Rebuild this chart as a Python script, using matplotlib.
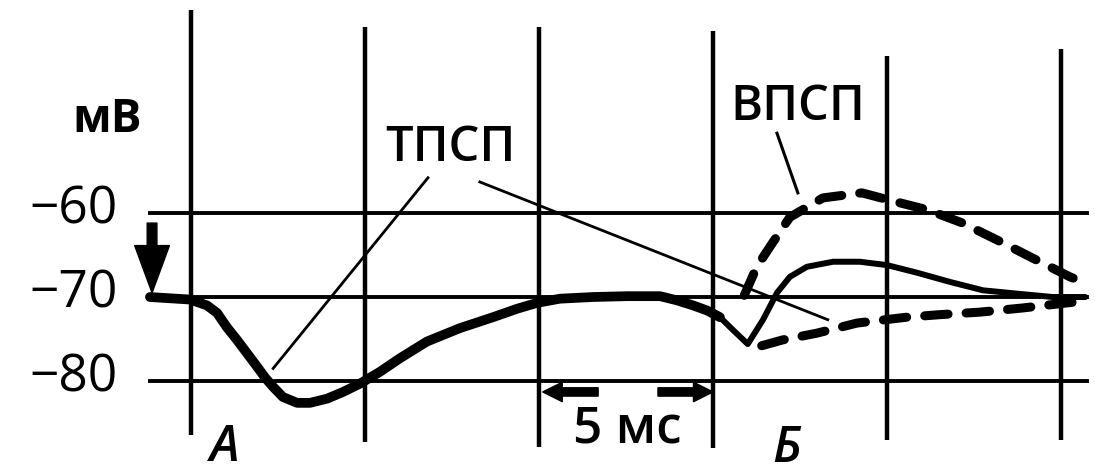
import matplotlib.pyplot as plt

plt.rcParams['font.family'] = ['Open Sans', 'DejaVu Sans']

# grid: time in ms, potential in mV
grid_times = [0, 5, 10, 15, 20, 25]
grid_top = [-35.8, -37.9, -37.9, -38.3, -41.3, -40.5]
grid_bottom = [-86.4, -87.3, -87.9, -88.0, -87.0, -87.0]
grid_levels = [-60, -70, -80]
level_labels = ['\u221260', '\u221270', '\u221280']

# A: ТПСП alone (thick trace)
ipsp_t = [-1.18, -0.03, 0.46, 0.75, 1.03, 1.32, 1.61, 1.90, 2.13, 2.36, 2.64, 3.05,
          3.42, 3.91, 4.37, 4.86, 5.43, 6.0, 6.78, 7.73, 8.68, 9.37, 9.94, 10.6,
          11.55, 12.53, 13.48, 13.97, 14.43, 14.83, 15.2]
ipsp_v = [-70.0, -70.3, -71.0, -71.9, -73.6, -75.1, -76.7, -78.3, -79.6, -80.7, -81.9, -82.6,
          -82.6, -82.1, -81.3, -80.3, -78.9, -77.3, -75.3, -73.7, -72.4, -71.4, -70.7, -70.2,
          -70.0, -69.9, -69.9, -70.4, -71.0, -71.6, -72.4]

# Б: sum of ВПСП and ТПСП
sum_t = [14.83, 15.2, 15.57, 16.0, 16.44, 16.84, 17.21, 17.7, 18.45, 19.22, 20.0,
         20.86, 21.81, 22.76, 23.74, 24.77, 25.7]
sum_v = [-71.6, -72.4, -73.9, -75.6, -72.7, -69.5, -67.6, -66.4, -65.8, -65.8, -66.2,
         -67.1, -68.2, -69.2, -69.6, -70.0, -70.0]

# Б: ВПСП alone (dashed, upper)
epsp_t = [15.9, 16.26, 16.64, 17.21, 18.16, 19.28, 20.29, 21.15, 22.18, 23.16, 24.11,
          25.26, 25.69]
epsp_v = [-69.8, -66.4, -64.0, -60.5, -58.2, -57.6, -58.7, -59.6, -61.2, -63.2, -65.2,
          -67.6, -68.3]

# Б: ТПСП alone (dashed, lower)
ipsp2_t = [16.4, 17.01, 17.99, 19.14, 20.57, 21.52, 22.67, 23.91, 25.17, 25.69]
ipsp2_v = [-75.8, -75.1, -74.3, -73.1, -72.4, -72.1, -71.8, -71.3, -70.7, -70.5]

fig = plt.figure(figsize=(10.95, 4.73), dpi=100)
ax = fig.add_axes([0, 0, 1, 1])
ax.set_xlim(-5.49, 25.98)
ax.set_ylim(-90.95, -34.64)
ax.axis('off')

for t, top, bot in zip(grid_times, grid_top, grid_bottom):
    ax.plot([t, t], [bot, top], color='black', lw=3.2, solid_capstyle='butt')
for lev, lab in zip(grid_levels, level_labels):
    ax.plot([-1.18, 25.75], [lev, lev], color='black', lw=2.8)
    ax.text(-2.1, lev + 0.4, lab, ha='right', va='center', fontsize=37, fontweight='medium')

ax.plot(ipsp_t, ipsp_v, color='black', lw=7, solid_capstyle='round', solid_joinstyle='round')
ax.plot(sum_t, sum_v, color='black', lw=4.3, solid_capstyle='round', solid_joinstyle='round')
ax.plot(epsp_t, epsp_v, color='black', lw=6.5, dashes=(2.6, 2.0), dash_capstyle='round')
ax.plot(ipsp2_t, ipsp2_v, color='black', lw=6.5, dashes=(2.6, 2.0), dash_capstyle='round')

# labels and pointers
ax.text(-2.41, -48.9, 'мВ', ha='center', va='center', fontsize=33, fontweight='bold')
ax.text(7.44, -52.3, 'ТПСП', ha='center', va='center', fontsize=35, fontweight='semibold')
ax.text(17.44, -47.4, 'ВПСП', ha='center', va='center', fontsize=35, fontweight='semibold')
ax.plot([6.81, 2.36], [-55.8, -78.5], color='black', lw=2)
ax.plot([8.30, 18.30], [-56.3, -72.7], color='black', lw=2)
ax.plot([16.84, 17.44], [-50.5, -57.6], color='black', lw=2.2)

ax.text(0.98, -88.0, 'А', ha='center', va='center', fontsize=36, style='italic', fontweight='semibold')
ax.text(17.13, -88.1, 'Б', ha='center', va='center', fontsize=36, style='italic', fontweight='semibold')
ax.text(12.53, -85.8, '5 мс', ha='center', va='center', fontsize=37, fontweight='semibold')

small = dict(arrowstyle='simple,head_length=14,head_width=14,tail_width=6',
             mutation_scale=1, color='black', shrinkA=0, shrinkB=0)
ax.annotate('', xy=(10.11, -81.3), xytext=(11.7, -81.3), arrowprops=small)
ax.annotate('', xy=(15.0, -81.3), xytext=(13.42, -81.3), arrowprops=small)

big = dict(arrowstyle='simple,head_length=34,head_width=25,tail_width=7',
           mutation_scale=1, color='black', shrinkA=0, shrinkB=0)
ax.annotate('', xy=(-1.12, -69.5), xytext=(-1.12, -61.2), arrowprops=big)

fig.savefig('out.png', dpi=100)
